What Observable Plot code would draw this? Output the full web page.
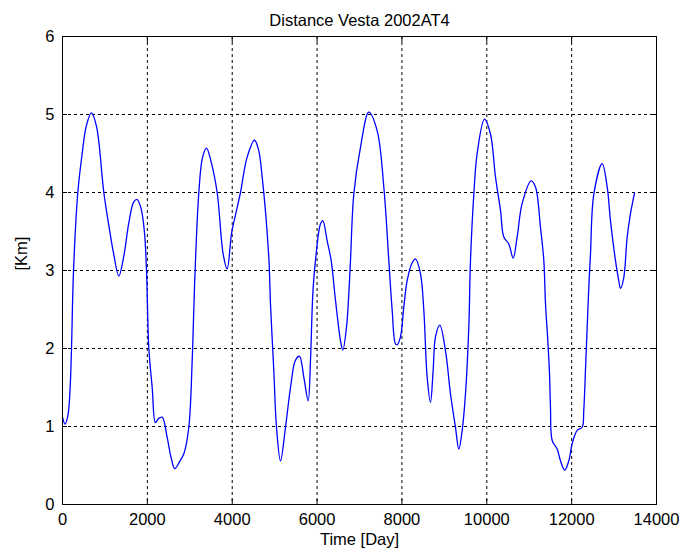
<!DOCTYPE html>
<html>
<head>
<meta charset="utf-8">
<script src="https://cdn.jsdelivr.net/npm/d3@7"></script>
<script src="https://cdn.jsdelivr.net/npm/@observablehq/plot@0.6"></script>
<style>
  html, body { margin: 0; padding: 0; background: #fff; }
  svg { display: block; }
</style>
</head>
<body>
<div id="chart"></div>
<script>
const title = "Distance Vesta 2002AT4";
const xLabel = "Time [Day]";
const yLabel = "[Km]";
const xTicks = [0, 2000, 4000, 6000, 8000, 10000, 12000, 14000];
const yTicks = [0, 1, 2, 3, 4, 5, 6];

const days = [
  0, 60, 130, 180, 212, 260, 361, 464, 560, 680, 800, 974, 1100, 1207, 1327,
  1450, 1560, 1680, 1760, 1850, 1930, 1980, 2035, 2114, 2190, 2260, 2350, 2467,
  2560, 2647, 2760, 2860, 2977, 3057, 3111, 3213, 3300, 3394, 3500, 3645, 3787,
  3881, 3983, 4080, 4195, 4350, 4525, 4620, 4706, 4862, 4902, 4980, 5044, 5138,
  5256, 5374, 5491, 5586, 5688, 5790, 5845, 5900, 5963, 6081, 6135, 6238, 6332,
  6434, 6552, 6607, 6693, 6748, 6788, 6866, 7023, 7220, 7417, 7573, 7691, 7770,
  7848, 7888, 7966, 8044, 8123, 8241, 8320, 8437, 8516, 8595, 8673, 8736, 8791,
  8893, 9027, 9144, 9262, 9341, 9420, 9498, 9576, 9616, 9695, 9773, 9946, 10087,
  10205, 10323, 10401, 10519, 10622, 10716, 10834, 11046, 11148, 11266, 11344,
  11384, 11438, 11478, 11501, 11541, 11659, 11737, 11838, 11933, 12012, 12130,
  12248, 12286, 12326, 12366, 12405, 12444, 12523, 12720, 12838, 12915, 13033,
  13111, 13151, 13229, 13309, 13387, 13481
];
const km = [
  1.12, 1.03, 1.15, 1.5, 2.0, 3.0, 4.0, 4.5, 4.85, 5.02, 4.85, 4.0, 3.55, 3.21, 2.93,
  3.2, 3.6, 3.88, 3.91, 3.8, 3.5, 3.0, 2.0, 1.5, 1.05, 1.1, 1.12, 0.86,
  0.6, 0.46, 0.55, 0.65, 0.99, 1.85, 2.79, 4.0, 4.45, 4.57, 4.4, 4.0, 3.21,
  3.02, 3.47, 3.72, 4.0, 4.45, 4.67, 4.55, 4.2, 3.17, 2.57, 1.72, 0.99, 0.56,
  0.99, 1.5, 1.85, 1.9, 1.63, 1.33, 1.85, 2.7, 3.13, 3.6, 3.64, 3.38, 3.13,
  2.62, 2.1, 1.98, 2.27, 2.7, 3.13, 3.98, 4.58, 5.03, 4.79, 4.07, 3.13, 2.49,
  2.06, 2.05, 2.15, 2.53, 2.87, 3.1, 3.15, 2.96, 2.49, 1.63, 1.31, 1.72, 2.15,
  2.3, 1.97, 1.42, 0.99, 0.71, 0.95, 1.42, 2.27, 3.13, 3.98, 4.5, 4.94, 4.75,
  4.2, 3.77, 3.43, 3.34, 3.16, 3.43, 3.86, 4.15, 4.07, 3.55, 3.13,
  2.57, 2.1, 1.68, 1.25, 0.82, 0.71, 0.56, 0.44, 0.56, 0.78, 0.95,
  0.99, 1.21, 1.72, 2.27, 2.79, 3.21, 3.98, 4.37, 4.07, 3.64, 3.13,
  2.87, 2.77, 2.91, 3.43, 3.73, 3.99
];

const data = days.map((d, i) => ({day: d, km: km[i]}));
const font = "'Liberation Sans', Arial, sans-serif";

const chart = Plot.plot({
  width: 683,
  height: 560,
  marginLeft: 62,
  marginRight: 27,
  marginTop: 36,
  marginBottom: 56,
  style: {fontFamily: font, fontSize: "16.5px", color: "#000", background: "#fff"},
  x: {domain: [0, 14000], ticks: xTicks},
  y: {domain: [0, 6], ticks: yTicks},
  marks: [
    Plot.gridX(xTicks, {stroke: "#000", strokeOpacity: 1, strokeDasharray: "3,3"}),
    Plot.gridY(yTicks, {stroke: "#000", strokeOpacity: 1, strokeDasharray: "3,3"}),
    Plot.axisX(xTicks, {anchor: "bottom", tickSize: 5, dy: -5, text: null, label: null, stroke: "#000"}),
    Plot.axisX(xTicks, {anchor: "top", tickSize: 5, dy: 5, text: null, label: null, stroke: "#000"}),
    Plot.axisY(yTicks, {anchor: "left", tickSize: 5, dx: 5, text: null, label: null, stroke: "#000"}),
    Plot.axisY(yTicks, {anchor: "right", tickSize: 5, dx: -5, text: null, label: null, stroke: "#000"}),
    Plot.axisX(xTicks, {anchor: "bottom", tickSize: 0, tickPadding: 9, label: null, fill: "#000", tickFormat: d => String(d)}),
    Plot.axisY(yTicks, {anchor: "left", tickSize: 0, tickPadding: 8, label: null, fill: "#000", tickFormat: d => String(d)}),
    Plot.line(data, {x: "day", y: "km", stroke: "#0000ff", strokeWidth: 1.3, curve: "catmull-rom"}),
    Plot.frame({stroke: "#000"}),
    Plot.text([title], {text: d => d, frameAnchor: "top", dy: -22, fill: "#000"}),
    Plot.text([xLabel], {text: d => d, frameAnchor: "bottom", dy: 40, fill: "#000"}),
    Plot.text([yLabel], {text: d => d, frameAnchor: "left", dx: -41, rotate: -90, fill: "#000"})
  ]
});
document.getElementById("chart").appendChild(chart);
</script>
</body>
</html>
